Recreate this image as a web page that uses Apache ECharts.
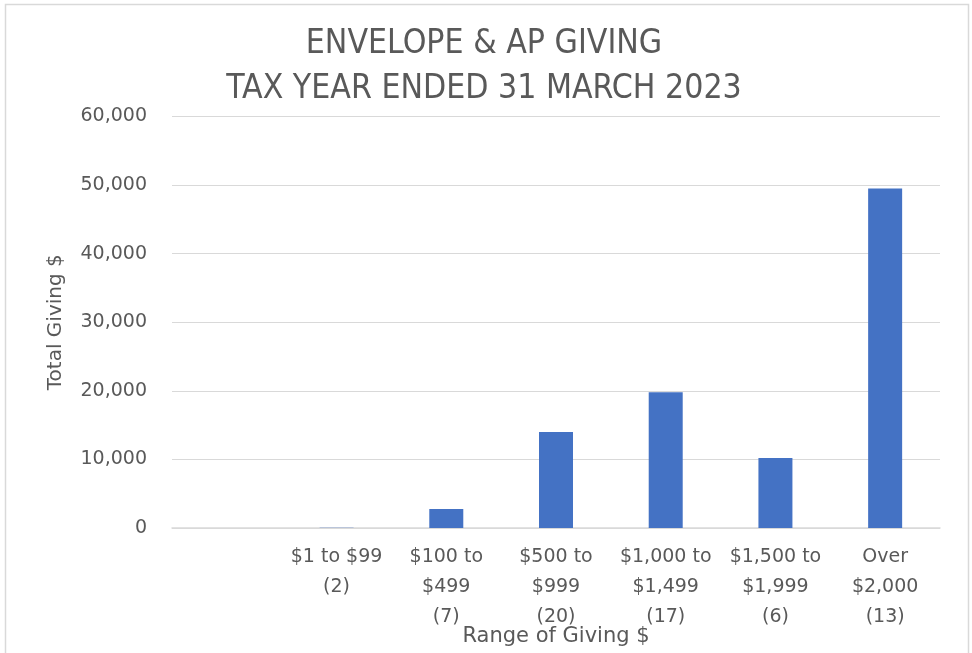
<!DOCTYPE html>
<html>
<head>
<meta charset="utf-8">
<script src="https://cdn.jsdelivr.net/npm/echarts@6/dist/echarts.min.js"></script>
<style>html,body{margin:0;padding:0;background:#fff;}#c{width:972px;height:653px;}</style>
</head>
<body>
<div id="c"></div>
<script>
const titleLines = ['ENVELOPE & AP GIVING', 'TAX YEAR ENDED 31 MARCH 2023'];
const categories = ['', '$1 to $99\n(2)', '$100 to\n$499\n(7)', '$500 to\n$999\n(20)', '$1,000 to\n$1,499\n(17)', '$1,500 to\n$1,999\n(6)', 'Over\n$2,000\n(13)'];
const totals = [null, 40, 2770, 14000, 19800, 10200, 49500];
const yTicks = { min: 0, max: 60000, interval: 10000 };
const xTitle = 'Range of Giving $';
const yTitle = 'Total Giving $';

const FONT = '"DejaVu Sans", sans-serif';
const TFONT = '"DejaVu Sans Condensed", "DejaVu Sans", sans-serif';
const GREY = '#595959';
const chart = echarts.init(document.getElementById('c'));
chart.setOption({
  animation: false,
  backgroundColor: '#fff',
  graphic: [{
    type: 'rect', shape: { x: 5.5, y: 4.5, width: 963, height: 700 },
    style: { fill: 'none', stroke: '#d9d9d9', lineWidth: 1.5 }, z: -1
  }],
  title: {
    text: titleLines.join('\n'),
    left: 479, top: 17, textAlign: 'center',
    textStyle: { fontFamily: TFONT, fontSize: 33.5, fontWeight: 'normal', color: GREY, lineHeight: 45 }
  },
  grid: { left: 172, right: 32, top: 116.5, bottom: 125, outerBoundsMode: 'none', containLabel: false },
  xAxis: {
    type: 'category', data: categories,
    name: xTitle, nameLocation: 'middle', nameGap: 98, nameMoveOverlap: false,
    nameTextStyle: { fontFamily: FONT, fontSize: 21, color: GREY },
    axisLine: { lineStyle: { color: '#d9d9d9', width: 1.5 } },
    axisTick: { show: false },
    axisLabel: { interval: 0, fontFamily: FONT, fontSize: 19, color: GREY, lineHeight: 30, margin: 14 }
  },
  yAxis: {
    type: 'value', min: yTicks.min, max: yTicks.max, interval: yTicks.interval,
    name: yTitle, nameLocation: 'middle', nameGap: 106, nameMoveOverlap: false,
    nameTextStyle: { fontFamily: FONT, fontSize: 20, color: GREY },
    axisLine: { show: false }, axisTick: { show: false },
    splitLine: { lineStyle: { color: '#d9d9d9', width: 1 } },
    axisLabel: {
      fontFamily: FONT, fontSize: 19, color: GREY, margin: 25,
      formatter: v => v.toLocaleString('en-US')
    }
  },
  series: [{
    type: 'bar', data: totals, barWidth: 34,
    itemStyle: { color: '#4472C4' }
  }]
});
</script>
</body>
</html>
